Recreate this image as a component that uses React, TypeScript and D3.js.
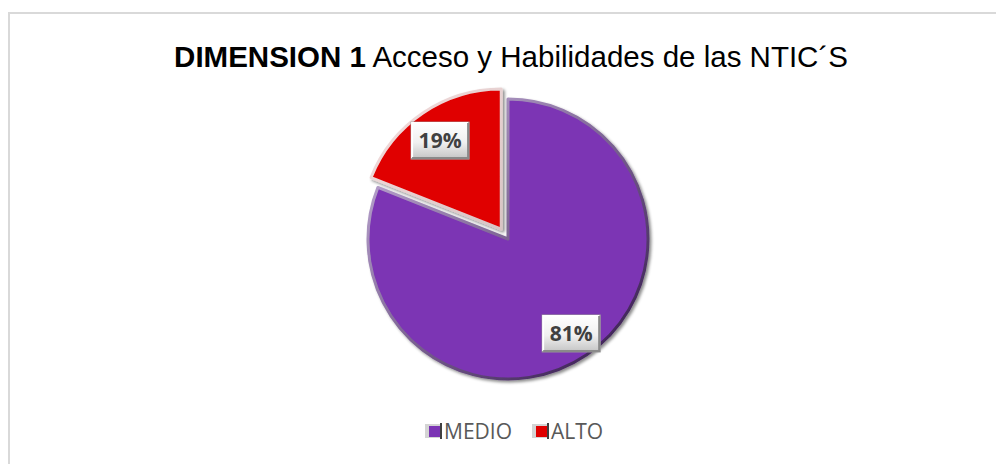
import React, { useEffect, useRef } from 'react'
import * as d3 from "d3";

const categories = ["MEDIO", "ALTO"];
const values = [81, 19];
const sliceColors = ["#7b34b4", "#e00000"];

const titleBold = "DIMENSION 1";
const titleRest = " Acceso y Habilidades de las NTIC´S";

const App = () => {
    const ref = useRef<SVGSVGElement>(null);

    useEffect(() => {
        drawPie();
    }, [])

    const drawPie = () => {
        const svg = d3.select(ref.current);
        svg.selectAll("*").remove();

        const width = 996, height = 464;
        const cx = 508, cy = 239, radius = 140;
        const explode = 12;

        const defs = svg.append("defs");
        // soft shadow for slices
        const shadow = defs.append("filter").attr("id", "sh").attr("x", "-20%").attr("y", "-20%").attr("width", "140%").attr("height", "140%");
        shadow.append("feDropShadow").attr("dx", 2).attr("dy", 2).attr("stdDeviation", 1.5)
            .attr("flood-color", "#000").attr("flood-opacity", 0.45);

        const rims = [["#cdb8e2", "#2c1045"], ["#f6dede", "#d8c4c4"]];
        rims.forEach((r, i) => {
            const g = defs.append("linearGradient").attr("id", "rim" + i)
                .attr("x1", "0").attr("y1", "0").attr("x2", "1").attr("y2", "1");
            g.append("stop").attr("offset", "0").attr("stop-color", r[0]);
            g.append("stop").attr("offset", "1").attr("stop-color", r[1]);
        });

        const boxGrad = defs.append("linearGradient").attr("id", "box")
            .attr("x1", "0").attr("y1", "0").attr("x2", "0").attr("y2", "1");
        boxGrad.append("stop").attr("offset", "0").attr("stop-color", "#ffffff");
        boxGrad.append("stop").attr("offset", "0.55").attr("stop-color", "#f0f0f0");
        boxGrad.append("stop").attr("offset", "1").attr("stop-color", "#c4c4c4");

        svg.append("rect")
            .attr("width", width).attr("height", height).attr("fill", "#fff");

        // chart border
        svg.append("rect")
            .attr("x", 9).attr("y", 13)
            .attr("width", 1000).attr("height", 480)
            .attr("fill", "none")
            .attr("stroke", "#d9d9d9")
            .attr("stroke-width", 2);

        // title
        const title = svg.append("text")
            .attr("x", 511).attr("y", 67)
            .attr("text-anchor", "middle")
            .style("font-family", "'Liberation Sans', Arial, sans-serif")
            .style("font-size", "29.5px")
            .attr("fill", "#000");
        title.append("tspan").attr("font-weight", "bold").text(titleBold);
        title.append("tspan").text(titleRest);

        const pie = d3.pie<number>().sort(null).startAngle(0).endAngle(2 * Math.PI);
        const arcs = pie(values);
        const arc = d3.arc<d3.PieArcDatum<number>>().innerRadius(0).outerRadius(radius);
        const labelArc = d3.arc<d3.PieArcDatum<number>>().innerRadius(radius * 0.79).outerRadius(radius * 0.79);

        const offsetOf = (d: d3.PieArcDatum<number>, i: number) => {
            if (i === 0) return [0, 0];
            const mid = (d.startAngle + d.endAngle) / 2;
            return [Math.sin(mid) * explode, -Math.cos(mid) * explode];
        }

        const g = svg.append("g").attr("transform", "translate(" + cx + "," + cy + ")");

        g.selectAll(".slice")
            .data(arcs)
            .enter().append("path")
            .attr("class", "slice")
            .attr("transform", (d, i) => { const o = offsetOf(d, i); return "translate(" + o[0] + "," + o[1] + ")"; })
            .attr("d", arc)
            .attr("fill", (d, i) => sliceColors[i])
            .attr("stroke", (d, i) => "url(#rim" + i + ")")
            .attr("stroke-width", 3)
            .attr("stroke-linejoin", "round")
            .attr("filter", "url(#sh)");

        // data labels
        const lab = g.selectAll(".lab")
            .data(arcs)
            .enter().append("g")
            .attr("class", "lab")
            .attr("transform", (d, i) => {
                const o = offsetOf(d, i);
                const c = labelArc.centroid(d);
                return "translate(" + (c[0] + o[0] + 1) + "," + (c[1] + o[1] + 3) + ")";
            });
        const bw = 58, bh = 37;
        lab.append("rect")
            .attr("x", -bw / 2).attr("y", -bh / 2)
            .attr("width", bw).attr("height", bh)
            .attr("fill", "url(#box)")
            .attr("stroke", "#9a9a9a").attr("stroke-width", 1);
        lab.append("path")
            .attr("d", "M" + (-bw / 2 + 1) + "," + (bh / 2 - 1) + "V" + (-bh / 2 + 1) + "H" + (bw / 2 - 1))
            .attr("fill", "none").attr("stroke", "#ffffff").attr("stroke-width", 2);
        lab.append("path")
            .attr("d", "M" + (-bw / 2 + 1) + "," + (bh / 2 - 1) + "H" + (bw / 2 - 1) + "V" + (-bh / 2 + 1))
            .attr("fill", "none").attr("stroke", "#8a8a8a").attr("stroke-width", 2);
        lab.append("text")
            .attr("text-anchor", "middle")
            .attr("dy", "0.36em")
            .style("font-family", "'Open Sans', 'Liberation Sans', sans-serif")
            .style("font-weight", "bold")
            .style("font-size", "21px")
            .attr("fill", "#404040")
            .text(d => d.data + "%");

        // legend
        const legendX = d3.scalePoint<string>().domain(categories).range([425, 532]);
        const leg = svg.selectAll(".leg")
            .data(categories)
            .enter().append("g")
            .attr("class", "leg")
            .attr("transform", d => "translate(" + legendX(d) + ",431)");
        leg.append("rect")
            .attr("x", 0).attr("y", -7).attr("width", 17).attr("height", 14)
            .attr("fill", "#d4d4d4");
        leg.append("rect")
            .attr("x", 4).attr("y", -5).attr("width", 11).attr("height", 11)
            .attr("fill", (d, i) => sliceColors[i]);
        leg.append("rect")
            .attr("x", 15).attr("y", -8).attr("width", 2).attr("height", 16)
            .attr("fill", "#404040");
        leg.append("text")
            .attr("x", 19).attr("y", 8)
            .style("font-family", "'Open Sans', 'Liberation Sans', sans-serif")
            .style("font-size", "21px")
            .attr("fill", "#595959")
            .text(d => d);
    }

    return (
        <svg ref={ref} width={996} height={464}
            style={{ position: 'absolute', left: 0, top: 0, display: 'block' }} />
    )
}

export default App;
